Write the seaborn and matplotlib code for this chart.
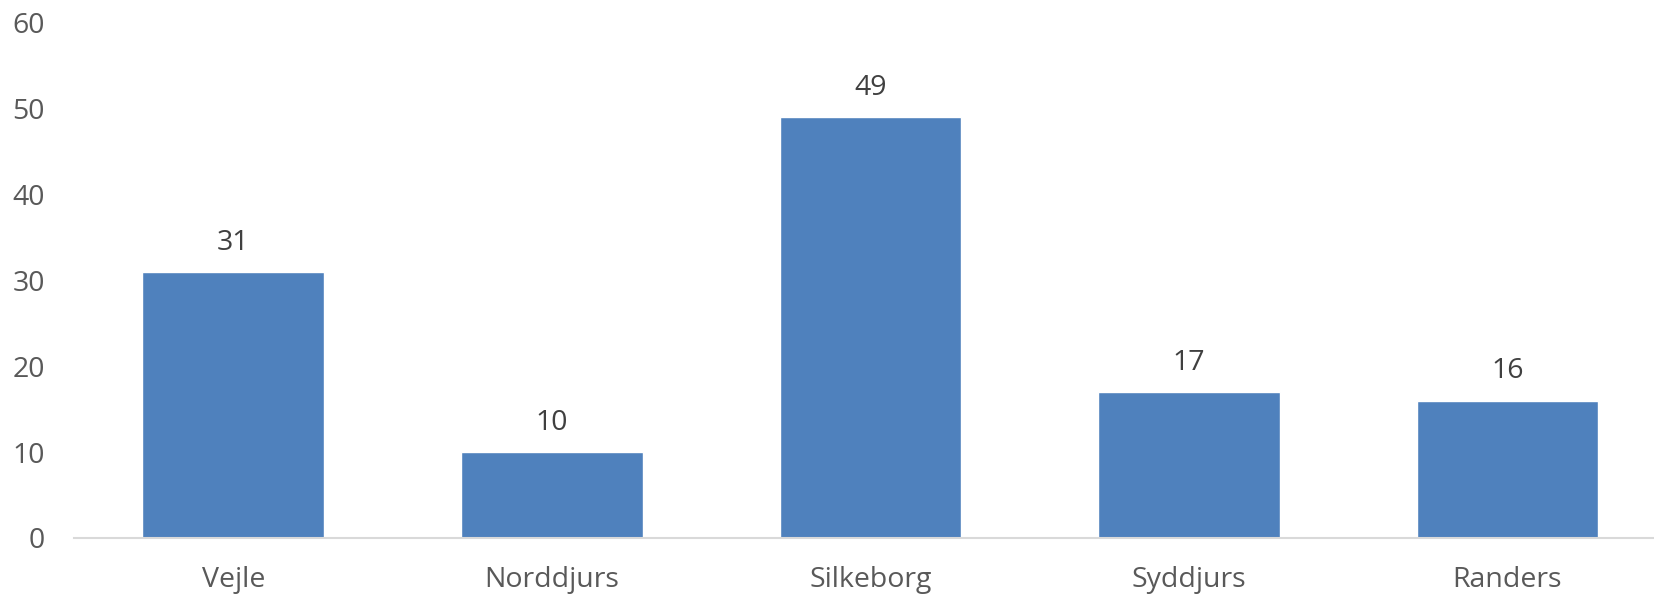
import matplotlib
matplotlib.use('Agg')
import matplotlib.pyplot as plt
import seaborn as sns
import pandas as pd

# data
kommuner = ['Vejle', 'Norddjurs', 'Silkeborg', 'Syddjurs', 'Randers']
antal = [31, 10, 49, 17, 16]
y_ticks = [0, 10, 20, 30, 40, 50, 60]

df = pd.DataFrame({'kommune': kommuner, 'antal': antal})

sns.set_style('white')
plt.rcParams['font.family'] = ['Open Sans', 'DejaVu Sans']

fig = plt.figure(figsize=(16.54, 5.95), dpi=100)
ax = fig.add_axes([0.0447, 0.0958, 0.963, 0.8656])

sns.barplot(data=df, x='kommune', y='antal', color='#4F81BD', saturation=1,
            width=0.57, ax=ax)

for c in ax.containers:
    ax.bar_label(c, padding=11, fontsize=20.5, color='#404040')

ax.set_xlim(-0.5, 4.5)
ax.set_ylim(0, 60)
ax.set_yticks(y_ticks)
ax.set_xlabel('')
ax.set_ylabel('')
ax.tick_params(axis='both', length=0, labelsize=20.5, labelcolor='#595959')
ax.tick_params(axis='x', pad=20)
ax.tick_params(axis='y', pad=21)
for side in ['top', 'right', 'left']:
    ax.spines[side].set_visible(False)
ax.spines['bottom'].set_color('#D9D9D9')
ax.spines['bottom'].set_linewidth(1.5)

fig.savefig('out.png', dpi=100)
